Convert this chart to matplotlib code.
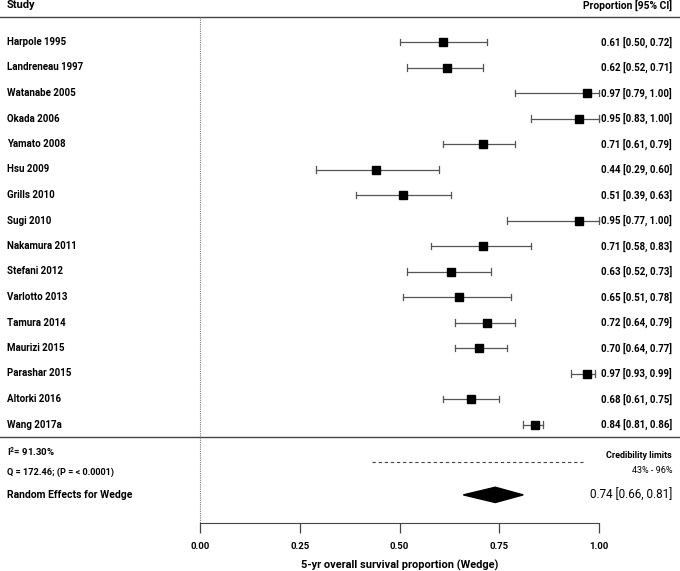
import matplotlib.pyplot as plt

# study-level estimates (5-yr overall survival, wedge resection)
studies = ["Harpole 1995", "Landreneau 1997", "Watanabe 2005", "Okada 2006",
           "Yamato 2008", "Hsu 2009", "Grills 2010", "Sugi 2010",
           "Nakamura 2011", "Stefani 2012", "Varlotto 2013", "Tamura 2014",
           "Maurizi 2015", "Parashar 2015", "Altorki 2016", "Wang 2017a"]
est = [0.61, 0.62, 0.97, 0.95, 0.71, 0.44, 0.51, 0.95,
       0.71, 0.63, 0.65, 0.72, 0.70, 0.97, 0.68, 0.84]
lo = [0.50, 0.52, 0.79, 0.83, 0.61, 0.29, 0.39, 0.77,
      0.58, 0.52, 0.51, 0.64, 0.64, 0.93, 0.61, 0.81]
hi = [0.72, 0.71, 1.00, 1.00, 0.79, 0.60, 0.63, 1.00,
      0.83, 0.73, 0.78, 0.79, 0.77, 0.99, 0.75, 0.86]

# pooled random-effects result
pooled = 0.74
pooled_lo = 0.66
pooled_hi = 0.81
cred_lo = 0.43
cred_hi = 0.96
i2_text = "I$^2$= 91.30%"
q_text = "Q = 172.46; (P = < 0.0001)"
xticks = [0.0, 0.25, 0.5, 0.75, 1.0]

plt.rcParams['font.family'] = ['Roboto', 'DejaVu Sans']
plt.rcParams['mathtext.fontset'] = 'custom'
plt.rcParams['mathtext.rm'] = 'Roboto:bold'

fig = plt.figure(figsize=(6.8, 5.71), dpi=100)
ax = fig.add_axes([0, 48 / 571, 1, 523 / 571])

n = len(studies)
rows = list(range(n))
ax.set_xlim(-200 / 399, 480 / 399)
ax.set_ylim((523 - 42) / 25.5, -42 / 25.5)

left_x = -0.484
right_x = 1.183

# header and separators
ax.axhline(-0.98, color="#444444", lw=1.0)
ax.axhline(15.49, color="#444444", lw=1.0)
ax.text(left_x, -1.45, "Study", fontsize=8, fontweight="bold", va="center", ha="left")
ax.text(right_x, -1.45, "Proportion [95% CI]", fontsize=7.4, fontweight="bold",
        va="center", ha="right")

# reference line at zero
ax.plot([0, 0], [-0.98, 18.86], color="#777777", lw=0.8, ls=(0, (1, 1)))

# individual studies
for i in rows:
    ax.plot([lo[i], hi[i]], [i, i], color="#555555", lw=0.9)
    ax.plot([lo[i], lo[i]], [i - 0.12, i + 0.12], color="#555555", lw=0.9)
    ax.plot([hi[i], hi[i]], [i - 0.12, i + 0.12], color="#555555", lw=0.9)
    ax.plot(est[i], i, marker="s", color="black", markersize=6.2)
    ax.text(left_x, i, studies[i], fontsize=7, fontweight="bold", va="center", ha="left")
    ax.text(right_x, i, f"{est[i]:.2f} [{lo[i]:.2f}, {hi[i]:.2f}]", fontsize=7,
            fontweight="bold", va="center", ha="right")

# heterogeneity
ax.text(left_x, 16.08, i2_text, fontsize=6.8, fontweight="bold", va="center", ha="left")
ax.text(left_x, 16.86, q_text, fontsize=6.6, fontweight="bold", va="center", ha="left")

# credibility limits
ax.plot([cred_lo, cred_hi], [16.47, 16.47], color="#444444", lw=0.8, ls=(0, (3, 2.5)))
ax.text(right_x, 16.2, "Credibility limits", fontsize=6.5, fontweight="bold",
        va="center", ha="right")
ax.text(right_x, 16.8, f"{cred_lo*100:.0f}% - {cred_hi*100:.0f}%", fontsize=6.5,
        va="center", ha="right")

# pooled diamond
ry = 17.76
ax.fill([pooled_lo, pooled, pooled_hi, pooled], [ry, ry - 0.3, ry, ry + 0.3],
        color="black")
ax.text(left_x, ry, "Random Effects for Wedge", fontsize=7.5, fontweight="bold",
        va="center", ha="left")
ax.text(right_x, ry, f"{pooled:.2f} [{pooled_lo:.2f}, {pooled_hi:.2f}]",
        fontsize=8.4, va="center", ha="right")

# x axis
for s in ["top", "left", "right"]:
    ax.spines[s].set_visible(False)
ax.spines["bottom"].set_bounds(0, 1)
ax.spines["bottom"].set_color("#444444")
ax.set_yticks([])
ax.set_xticks(xticks)
ax.set_xticklabels([f"{t:.2f}" for t in xticks], fontsize=6.8, fontweight="bold")
ax.tick_params(axis="x", direction="out", length=7, width=0.9, color="#444444", pad=7)
ax.set_xlabel("5-yr overall survival proportion (Wedge)", fontsize=7.9, fontweight="bold")
ax.xaxis.set_label_coords(400 / 680, -0.07)

fig.savefig("out.png", dpi=100)
